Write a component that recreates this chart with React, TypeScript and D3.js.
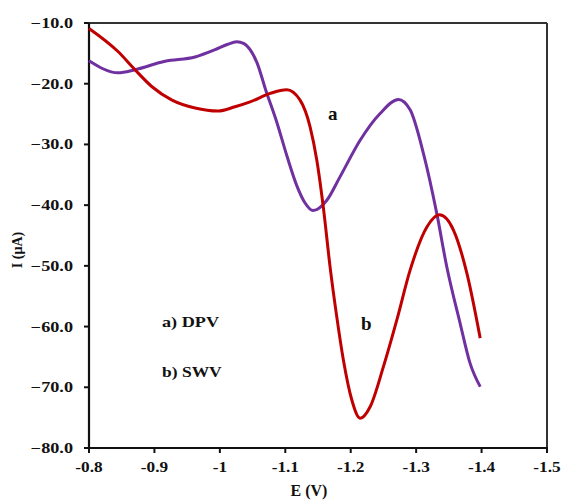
import React from "react";
import * as d3 from "d3";

const dpvE = [-0.80, -0.8443, -0.8703, -0.9162, -0.9621, -0.9927, -1.0120, -1.0258, -1.0370, -1.0462, -1.0570, -1.0697, -1.0875, -1.1028, -1.1180, -1.1300, -1.1425, -1.1635, -1.1838, -1.2144, -1.2449, -1.2729, -1.2908, -1.3112, -1.3316, -1.3469, -1.3673, -1.3826, -1.3979];
const dpvI = [-16.2, -18.2, -17.7, -16.3, -15.6, -14.4, -13.5, -13.1, -13.4, -14.4, -16.6, -20.9, -26.5, -32.0, -36.9, -39.6, -40.9, -39.2, -35.3, -29.3, -24.9, -22.6, -24.3, -31.5, -41.4, -50.2, -59.5, -66.1, -69.9];

const swvE = [-0.80, -0.8443, -0.8703, -0.8963, -0.9269, -0.9621, -0.9972, -1.0232, -1.0462, -1.0768, -1.1023, -1.1226, -1.1379, -1.1482, -1.1583, -1.1685, -1.1787, -1.1888, -1.2017, -1.2144, -1.2297, -1.25, -1.2705, -1.2908, -1.3164, -1.3356, -1.357, -1.3775, -1.3979];
const swvI = [-10.9, -14.7, -17.7, -20.5, -22.7, -24.0, -24.5, -23.8, -23.0, -21.6, -21.0, -22.7, -27.1, -32.6, -40.5, -50.2, -58.4, -65.5, -72.1, -75.1, -73.2, -66.6, -58.9, -50.7, -43.6, -41.6, -44.1, -51.2, -61.9];

const xTicks = [-0.8, -0.9, -1.0, -1.1, -1.2, -1.3, -1.4, -1.5];
const yTicks = [-10, -20, -30, -40, -50, -60, -70, -80];

const seriesNames = ["a) DPV", "b) SWV"];
const curveLabels = ["a", "b"];

const FONT = "'Liberation Serif', 'Times New Roman', serif";

export default function App() {
  const W = 562, H = 500;
  const x = d3.scaleLinear().domain([-0.8, -1.5]).range([89, 547]);
  const y = d3.scaleLinear().domain([-10, -80]).range([23, 448]);

  const line = d3
    .line<[number, number]>()
    .x((d) => x(d[0]))
    .y((d) => y(d[1]))
    .curve(d3.curveMonotoneX);

  const dpv = dpvE.map((e, i) => [e, dpvI[i]] as [number, number]);
  const swv = swvE.map((e, i) => [e, swvI[i]] as [number, number]);

  const x0 = x(-0.8), x1 = x(-1.5), y0 = y(-10), y1 = y(-80);

  return (
    <svg width={W} height={H} style={{ position: "absolute", left: 0, top: 0, background: "#fff" }}>
      <rect x={0} y={0} width={W} height={H} fill="#fff" />
      {/* frame */}
      <line x1={x0} y1={y0} x2={x1} y2={y0} stroke="#333" strokeWidth={2} />
      <line x1={x1} y1={y0} x2={x1} y2={y1} stroke="#333" strokeWidth={2} />
      <line x1={x0} y1={y0} x2={x0} y2={y1 + 1} stroke="#111" strokeWidth={2.2} />
      <line x1={x0 - 1} y1={y1} x2={x1 + 1} y2={y1} stroke="#111" strokeWidth={2.2} />

      {/* y ticks */}
      {yTicks.map((t) => (
        <g key={"y" + t}>
          <line x1={x0 - 5} x2={x0} y1={y(t)} y2={y(t)} stroke="#111" strokeWidth={2} />
          <text
            transform={`translate(73,${y(t) + 5}) scale(1.3,1)`}
            textAnchor="end"
            fontFamily={FONT}
            fontWeight="bold"
            fontSize={14}
            fill="#111"
          >
            {d3.format(".1f")(t)}
          </text>
        </g>
      ))}

      {/* x ticks */}
      {xTicks.map((t) => (
        <g key={"x" + t}>
          <line x1={x(t)} x2={x(t)} y1={y1} y2={y1 + 5} stroke="#111" strokeWidth={2} />
          <text
            transform={`translate(${x(t)},472) scale(1.15,1)`}
            textAnchor="middle"
            fontFamily={FONT}
            fontWeight="bold"
            fontSize={15}
            fill="#111"
          >
            {String(+t.toFixed(1))}
          </text>
        </g>
      ))}

      {/* curves */}
      <path d={line(dpv) || ""} fill="none" stroke="#7030A0" strokeWidth={3} strokeLinejoin="round" />
      <path d={line(swv) || ""} fill="none" stroke="#C00000" strokeWidth={3} strokeLinejoin="round" />

      {/* curve labels */}
      <text x={328} y={120} fontFamily={FONT} fontWeight="bold" fontSize={19} fill="#111">{curveLabels[0]}</text>
      <text x={361} y={330} fontFamily={FONT} fontWeight="bold" fontSize={19} fill="#111">{curveLabels[1]}</text>

      {/* legend text */}
      <text transform="translate(162,327) scale(1.3,1)" fontFamily={FONT} fontWeight="bold" fontSize={14} fill="#111">{seriesNames[0]}</text>
      <text transform="translate(162,377) scale(1.25,1)" fontFamily={FONT} fontWeight="bold" fontSize={14} fill="#111">{seriesNames[1]}</text>

      {/* axis titles */}
      <text x={309} y={496} textAnchor="middle" fontFamily={FONT} fontWeight="bold" fontSize={16} fill="#111">E (V)</text>
      <text transform="translate(22,250) rotate(-90)" textAnchor="middle" fontFamily={FONT} fontWeight="bold" fontSize={14} fill="#111">I (µA)</text>
    </svg>
  );
}
